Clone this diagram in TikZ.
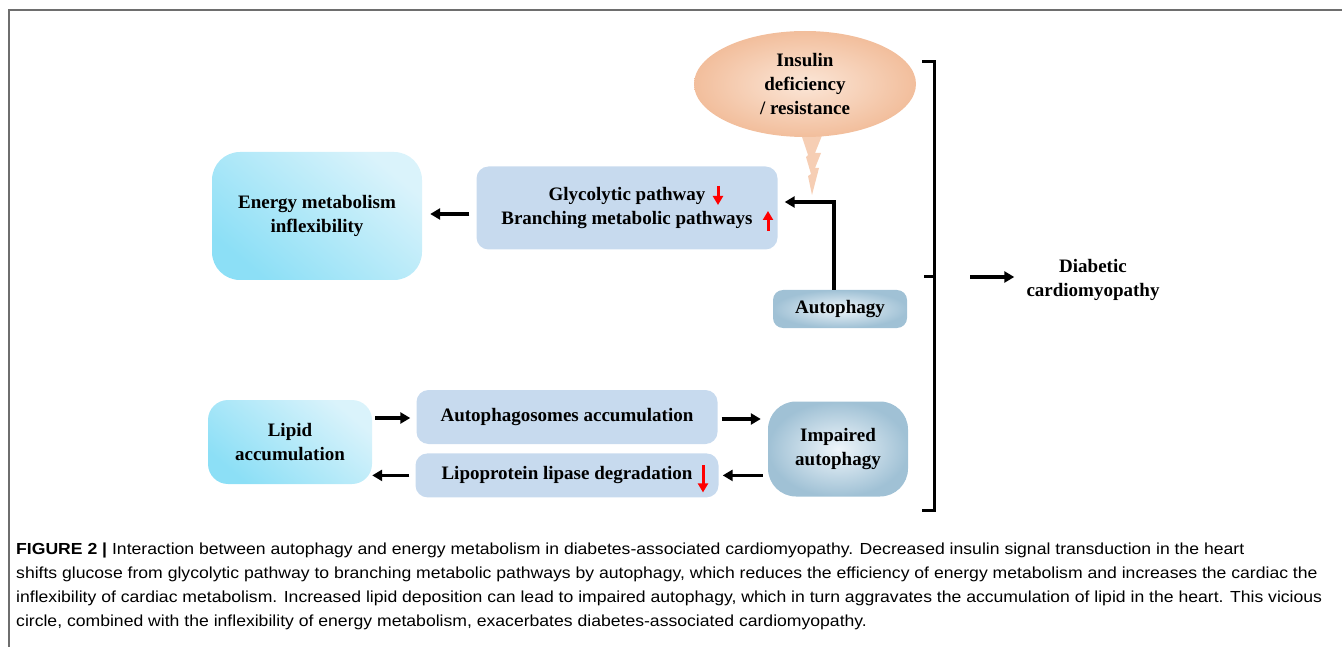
\documentclass[tikz,border=0pt]{standalone}
\usepackage{fontspec}
\setmainfont{Liberation Serif}
\newfontfamily\capfont[FakeStretch=1.1]{Liberation Sans}
\usetikzlibrary{positioning,shapes.geometric,arrows.meta,calc}
\definecolor{paleblue}{HTML}{C7DAEE}
\definecolor{cyanlight}{HTML}{DAF3FB}
\definecolor{cyandark}{HTML}{8CDFF6}
\definecolor{steel}{HTML}{A0C1D5}
\definecolor{steellight}{HTML}{EEF5FA}
\definecolor{peach}{HTML}{F2BE9C}
\definecolor{peachlight}{HTML}{FBE6D7}
\definecolor{framegray}{HTML}{6E6E6E}
\tikzset{basic/.style={font=\bfseries\fontsize{19}{24}\selectfont,align=center,inner sep=0pt}}
\tikzset{pathway/.style={basic,rectangle,rounded corners=12pt,fill=paleblue}}
\tikzset{outcome/.style={basic,rectangle,top color=cyanlight,bottom color=cyandark,shading angle=-40}}
\tikzset{process/.style={basic,rectangle,inner color=steellight,outer color=steel}}
\tikzset{trigger/.style={basic,ellipse,inner color=peachlight,outer color=peach}}
\tikzset{link/.style={line width=3.2pt,-{Stealth[length=10pt,width=11pt,inset=0pt]}}}
\tikzset{change/.style={red,line width=3pt,-{Triangle[length=9pt,width=10pt]}}}

\begin{document}
\begin{tikzpicture}[x=1pt,y=-1pt]
    \useasboundingbox (0,0) rectangle (1342,647);
    \draw[framegray,line width=2pt] (9,647) -- (9,10) -- (1342,10);
    % insulin bubble
    \fill[peach!60!peachlight] (799,128) -- (825,128) -- (815,153) -- (821,153) -- (815,168) -- (819,168)
        -- (812,195) -- (808,176) -- (811,174) -- (806,157) -- (808,155) -- cycle;
    \node[trigger,minimum width=222pt,minimum height=106pt] (insulin) at (805,84) {Insulin\\deficiency\\/ resistance};
    % upper row
    \node[pathway,minimum width=301pt,minimum height=83pt] (glyco) at (627,208) {Glycolytic pathway\\Branching metabolic pathways};
        \draw[change] ($(glyco.center)+(91,-22)$) -- ++(0,19);
        \draw[change] ($(glyco.center)+(141,23)$) -- ++(0,-20);
    \node[outcome,rounded corners=28pt,minimum width=210pt,minimum height=128pt] (energy) at (317,216) {Energy metabolism\\inflexibility};
        \draw[link,shorten <=7pt,shorten >=8pt] ([yshift=2pt]energy.east -| glyco.west) -- ([yshift=2pt]energy.east);
    \node[process,rounded corners=10pt,minimum width=134pt,minimum height=38pt] (autophagy) at (840,309) {Autophagy};
        \draw[link] ([xshift=-6pt]autophagy.north) |- ([xshift=7pt,yshift=6pt]glyco.east);
    % lower row
    \node[outcome,rounded corners=20pt,minimum width=164pt,minimum height=84pt] (lipid) at (290,442) {Lipid\\accumulation};
    \node[pathway,minimum width=301pt,minimum height=54pt] (autophagosome) at (567,417) {Autophagosomes accumulation};
    \node[pathway,minimum width=303pt,minimum height=44pt,below=9pt of autophagosome] (lipoprotein) {Lipoprotein lipase degradation};
        \draw[change] ($(lipoprotein.center)+(136,-10)$) -- ++(0,27);
    \node[process,rounded corners=28pt,minimum width=140pt,minimum height=95pt] (impaired) at (838,449) {Impaired\\autophagy};
        \draw[link,shorten <=3pt,shorten >=6pt] ([yshift=-1pt]autophagosome.west -| lipid.east) -- ([yshift=-1pt]autophagosome.west);
        \draw[link,shorten <=4pt,shorten >=7pt] ([yshift=-2pt]autophagosome.east) -- ([yshift=-2pt]autophagosome.east -| impaired.west);
        \draw[link,shorten <=5pt,shorten >=4pt] (lipoprotein.east -| impaired.west) -- (lipoprotein.east);
        \draw[link,shorten <=6pt,shorten >=0pt] (lipoprotein.west) -- (lipoprotein.west -| lipid.east);
    % bracket and outcome
    \draw[line width=3pt] (922,62) -- (934,62) -- (934,510) -- (922,510);
    \coordinate (brace) at (934,277);
    \draw[line width=3pt] (brace) -- ++(-10,0);
    \node[basic] (diabetic) at (1093,280) {Diabetic\\cardiomyopathy};
    \coordinate (fork) at (970,277);
        \draw[link,shorten >=12pt] (fork) -- (fork -| diabetic.west);
    % caption
    \node[anchor=north west,align=left,inner sep=0pt,font=\capfont\fontsize{16}{24}\selectfont] (caption) at (16,543)
        {\textbf{FIGURE 2 |} Interaction between autophagy and energy metabolism in diabetes-associated cardiomyopathy. Decreased insulin signal transduction in the heart\\
        shifts glucose from glycolytic pathway to branching metabolic pathways by autophagy, which reduces the efficiency of energy metabolism and increases the cardiac the\\
        inflexibility of cardiac metabolism. Increased lipid deposition can lead to impaired autophagy, which in turn aggravates the accumulation of lipid in the heart. This vicious\\
        circle, combined with the inflexibility of energy metabolism, exacerbates diabetes-associated cardiomyopathy.};
\end{tikzpicture}
\end{document}
